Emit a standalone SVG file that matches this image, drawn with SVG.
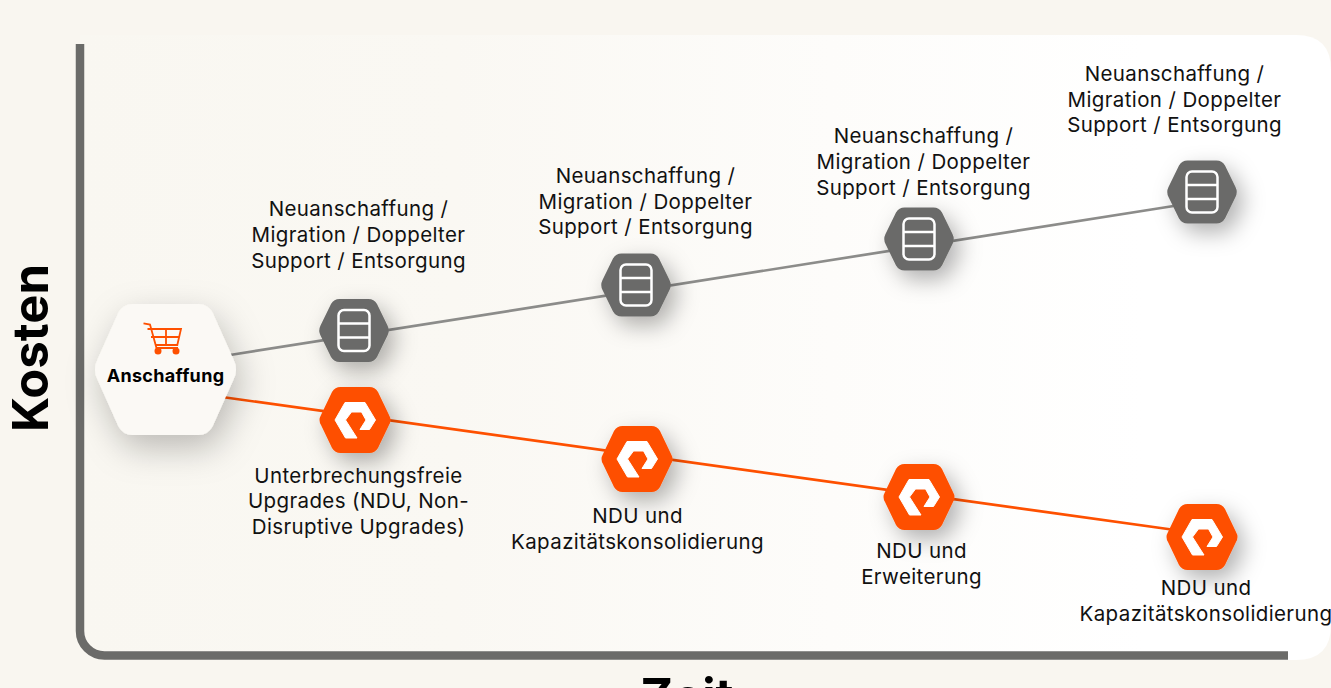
<svg xmlns="http://www.w3.org/2000/svg" width="1331" height="688" viewBox="0 0 1331 688">
<style>
text{font-family:Inter,"Noto Sans","Liberation Sans",sans-serif;fill:#111;text-anchor:middle}
.l{font-size:20.500px;letter-spacing:.38px}
.axis{font-size:49px;font-weight:700;fill:#000}
.hexg{fill:#6b6b69}
.hexo{fill:#fe5000}
.ic{fill:none;stroke:#fff;stroke-width:2.500}
</style>
<defs>
<linearGradient id="panel" x1="0" x2="1" y1="0" y2="0"><stop offset="0" stop-color="#f9f7f1"/><stop offset="0.3" stop-color="#faf8f3"/><stop offset="0.6" stop-color="#fdfcfa"/><stop offset="0.85" stop-color="#fff"/></linearGradient>
<filter id="sh" x="-80%" y="-80%" width="280%" height="280%"><feDropShadow dx="7" dy="9" stdDeviation="11" flood-color="#000" flood-opacity="0.3"/></filter>
<filter id="shb" x="-40%" y="-40%" width="180%" height="190%"><feDropShadow dx="5" dy="13" stdDeviation="17" flood-color="#000" flood-opacity="0.25"/></filter>
<g id="gray">
<path class="hexg" d="M-14.500-31.500H14.500Q20-31.500 23-26.500L33.500-5Q36 0 33.500 5L23 26.500Q20 31.500 14.500 31.500H-14.500Q-20 31.500-23 26.500L-33.500 5Q-36 0-33.500-5L-23-26.500Q-20-31.500-14.500-31.500Z" filter="url(#sh)"/>
<rect class="ic" x="-15.500" y="-20.500" width="31" height="41" rx="5.500"/>
<path class="ic" d="M-15.500-7H15.500M-15.500 7H15.500"/>
</g>
<g id="orange">
<path class="hexo" d="M-14.500-33H14.500Q20-33 23-28L34-5Q37 0 34 5L23 28Q20 33 14.500 33H-14.500Q-20 33-23 28L-34 5Q-37 0-34-5L-23-28Q-20-33-14.500-33Z" filter="url(#sh)"/>
<path fill="#fff" stroke="#fff" stroke-width="1" stroke-linejoin="round" d="M-10-17.500H10L20.500 0L14.500 9.500H5L11 0L6.500-8H-3.500L-9.500 0L2 18H-9.500L-20 0Z"/>
</g>
</defs>
<rect width="1331" height="688" fill="#f9f6f0"/>
<path d="M80 35H1296Q1331 35 1331 70V625Q1331 660 1296 660H80Z" fill="url(#panel)"/>
<path id="axes" d="M80 44V631A24.500 24.500 0 0 0 104.500 655.500H1288" fill="none" stroke="#6b6b69" stroke-width="8.500"/>
<g id="connectors">
<path d="M230 355L1180 205" stroke="#8c8c8a" stroke-width="2.700" fill="none"/>
<path d="M222 397L1175 530" stroke="#fe5000" stroke-width="2.700" fill="none"/>
</g>
<g id="start">
<path d="M-33-65.500H33Q42-65.500 47-57L68-10Q73 0 68 10L47 57Q42 65.500 33 65.500H-33Q-42 65.500-47 57L-68 10Q-73 0-68-10L-47-57Q-42-65.500-33-65.500Z" transform="translate(165.500 369.500)" fill="#fbf9f5" filter="url(#shb)"/>
<g fill="none" stroke="#fe5000" stroke-width="1.800">
<path d="M143.500 323.300L150 324.500L156.500 348H178"/>
<path d="M147.500 329H181L177.300 345H155.500"/>
<path d="M166 329V345M151 337H179"/>
</g>
<circle cx="158" cy="351" r="3.500" fill="#fe5000"/><circle cx="176" cy="351" r="3.500" fill="#fe5000"/>
<text x="165.500" y="381.500" style="font-size:18px;font-weight:700;letter-spacing:.3px;fill:#000">Anschaffung</text>
</g>
<g id="g1"><use href="#gray" x="354" y="330.500"/><text class="l" x="358.500" y="215.500">Neuanschaffung /</text><text class="l" x="358.500" y="241.500">Migration / Doppelter</text><text class="l" x="358.500" y="267.500">Support / Entsorgung</text></g>
<g id="g2"><use href="#gray" x="636" y="285"/><text class="l" x="645.500" y="182.500">Neuanschaffung /</text><text class="l" x="645.500" y="208.500">Migration / Doppelter</text><text class="l" x="645.500" y="233.500">Support / Entsorgung</text></g>
<g id="g3"><use href="#gray" x="919" y="239"/><text class="l" x="923.500" y="142.500">Neuanschaffung /</text><text class="l" x="923.500" y="168.500">Migration / Doppelter</text><text class="l" x="923.500" y="194.500">Support / Entsorgung</text></g>
<g id="g4"><use href="#gray" x="1202" y="192"/><text class="l" x="1174.500" y="80.500">Neuanschaffung /</text><text class="l" x="1174.500" y="106.500">Migration / Doppelter</text><text class="l" x="1174.500" y="131.500">Support / Entsorgung</text></g>
<g id="o1"><use href="#orange" x="355" y="420"/><text class="l" x="358.500" y="482.500">Unterbrechungsfreie</text><text class="l" x="358.500" y="507.500">Upgrades (NDU, Non-</text><text class="l" x="358.500" y="533.500">Disruptive Upgrades)</text></g>
<g id="o2"><use href="#orange" x="637" y="459"/><text class="l" x="637.500" y="522.500">NDU und</text><text class="l" x="637.500" y="548.500">Kapazitätskonsolidierung</text></g>
<g id="o3"><use href="#orange" x="919" y="497"/><text class="l" x="921.500" y="557.500">NDU und</text><text class="l" x="921.500" y="583.500">Erweiterung</text></g>
<g id="o4"><use href="#orange" x="1202" y="537"/><text class="l" x="1206" y="594.500">NDU und</text><text class="l" x="1206" y="620.500">Kapazitätskonsolidierung</text></g>
<text class="axis" transform="translate(47.500 348) rotate(-90)">Kosten</text>
<text class="axis" x="687" y="713.500">Zeit</text>
</svg>
